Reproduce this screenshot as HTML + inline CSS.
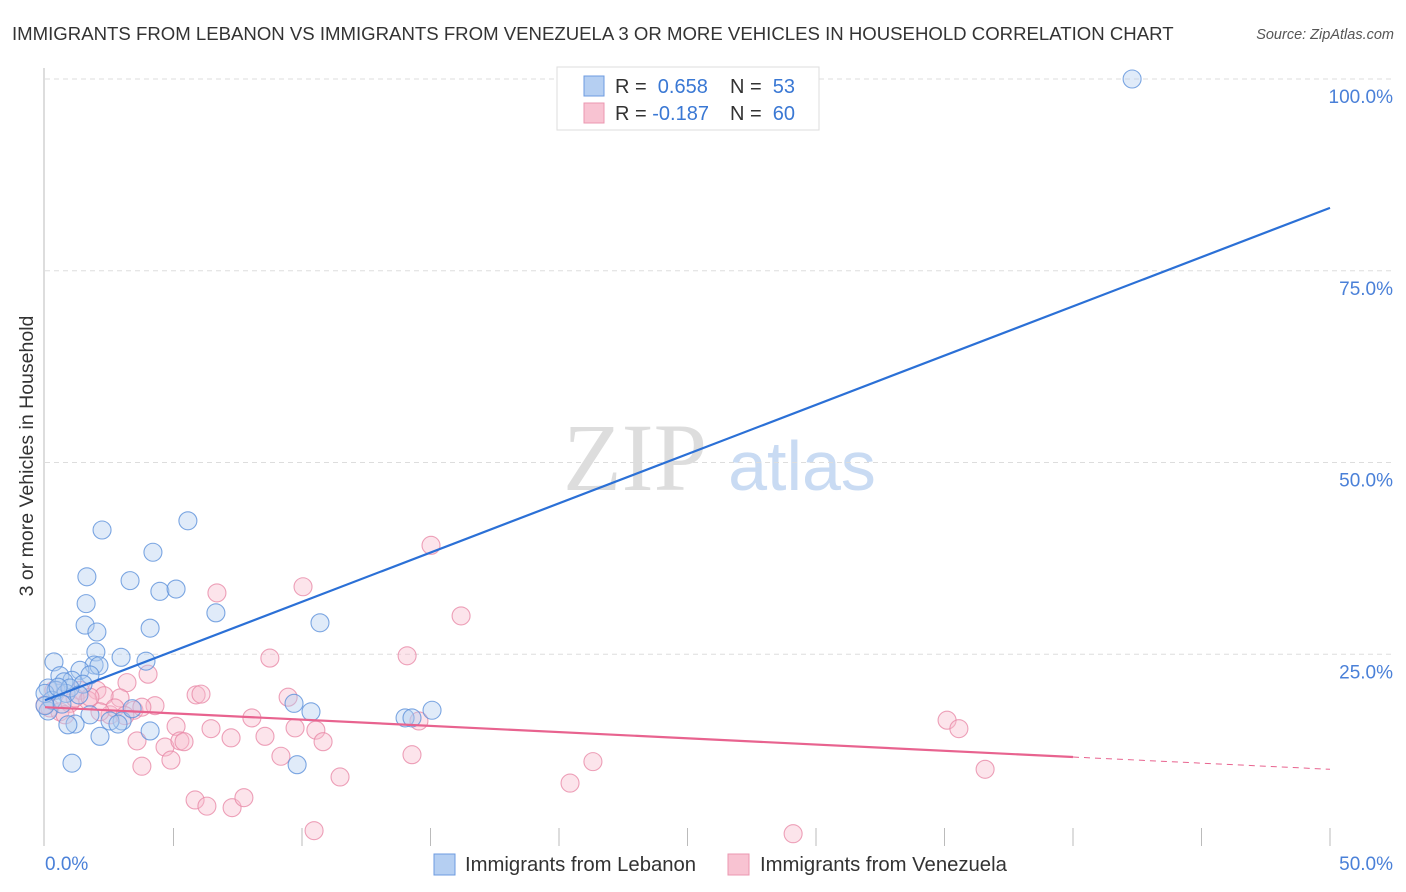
<!DOCTYPE html>
<html><head><meta charset="utf-8"><style>
body{margin:0;background:#fff;font-family:"Liberation Sans",sans-serif}
svg{display:block}
</style></head><body>
<svg id="chart" width="1406" height="892">
<text x="12" y="40" font-size="18.6" fill="#333">IMMIGRANTS FROM LEBANON VS IMMIGRANTS FROM VENEZUELA 3 OR MORE VEHICLES IN HOUSEHOLD CORRELATION CHART</text>
<text x="1394" y="39" font-size="14.5" fill="#555" font-style="italic" text-anchor="end">Source: ZipAtlas.com</text>
<text transform="translate(33,456) rotate(-90)" font-size="19.5" fill="#333" text-anchor="middle">3 or more Vehicles in Household</text>
<g><text x="635" y="490" font-size="96" font-family="Liberation Serif,serif" fill="#ddd" text-anchor="middle">ZIP</text><text x="802" y="490" font-size="70" fill="#c9dbf3" text-anchor="middle">atlas</text></g>
<g id="grid"></g><g id="axes"></g><g id="pts"></g><g id="lines"></g>
<g>
<rect x="557" y="67" width="262" height="63" fill="#fff" stroke="#ddd"/>
<rect x="584" y="76" width="20" height="20" fill="#b5cff2" stroke="#6d9be0"/>
<rect x="584" y="103" width="20" height="20" fill="#f8c3d2" stroke="#eb97b0"/>
<text x="615" y="93" font-size="20" fill="#333">R = <tspan fill="#3a78d4">&#160;0.658</tspan><tspan x="730">N = </tspan><tspan fill="#3a78d4">&#160;53</tspan></text>
<text x="615" y="120" font-size="20" fill="#333">R = <tspan fill="#3a78d4">-0.187</tspan><tspan x="730">N = </tspan><tspan fill="#3a78d4">&#160;60</tspan></text>
</g>
<g>
<rect x="434" y="854" width="21" height="21" fill="#b5cff2" stroke="#6d9be0"/>
<text x="465" y="871" font-size="20.3" fill="#333">Immigrants from Lebanon</text>
<rect x="728" y="854" width="21" height="21" fill="#f8c3d2" stroke="#eb97b0"/>
<text x="760" y="871" font-size="20.3" fill="#333">Immigrants from Venezuela</text>
</g>
</svg>
<script>
const blueX=[42.3,5.56,2.22,4.2,1.63,3.31,4.47,5.1,1.6,6.65,1.56,2.02,4.09,10.7,1.98,2.96,3.93,0.35,1.91,2.1,1.36,0.58,1.75,1.05,0.74,0.12,0.43,0.82,1.48,0.97,9.69,10.35,15.06,14.01,14.28,3.0,1.75,2.53,1.17,0.89,4.09,2.14,1.05,9.81,0.12,0.27,0.66,0.0,0.51,1.32,3.39,2.84,0.0];
const blueY=[100,42.4,41.2,38.3,35.1,34.6,33.2,33.5,31.6,30.4,28.8,27.9,28.4,29.1,25.3,24.6,24.1,24.0,23.6,23.5,22.9,22.2,22.3,21.6,21.4,20.6,20.3,19.9,21.1,20.6,18.6,17.5,17.7,16.7,16.7,16.3,17.1,16.3,15.9,15.8,15.0,14.3,10.8,10.6,17.6,19.0,18.5,19.9,20.7,19.7,17.9,15.9,18.3];
const pinkX=[15.02,10.04,6.69,16.19,8.75,14.09,4.01,3.19,5.88,6.07,9.46,2.02,2.92,2.3,3.46,4.28,3.77,5.1,6.46,8.05,7.24,8.56,9.73,10.54,10.82,14.55,35.1,35.56,4.67,5.25,5.41,3.58,4.9,3.77,9.18,14.28,11.48,21.32,20.43,36.58,5.84,6.3,7.28,7.74,10.47,29.11,0.19,0.58,0.97,1.36,1.67,0.35,2.53,0.78,1.17,1.75,2.72,2.14,0.0,3.11];
const pinkY=[39.2,33.8,33.0,30.0,24.5,24.8,22.4,21.3,19.7,19.8,19.4,20.3,19.3,19.6,17.7,18.3,18.1,15.6,15.3,16.7,14.1,14.3,15.4,15.1,13.6,16.3,16.4,15.3,12.9,13.7,13.6,13.7,11.2,10.4,11.7,11.9,9.0,11.0,8.2,10.0,6.0,5.2,5.0,6.3,2.0,1.6,18.0,17.5,18.6,20.3,19.0,20.3,17.1,17.1,19.3,19.4,18.0,17.5,18.4,17.0];
const blueTrend=[[0,19.0],[50,83.2]];
const pinkTrend=[[0,18.1],[40,11.6]];
const pinkDash=[[40,11.6],[50,10.0]];
const yTicks=[25,50,75,100];
const xTickVals=[0,5,10,15,20,25,30,35,40,45,50];
const NS="http://www.w3.org/2000/svg";
const sx=v=>45+v/50*1285, sy=v=>846-v/100*767;
function mk(t,a,p){const e=document.createElementNS(NS,t);for(const k in a)e.setAttribute(k,a[k]);document.getElementById(p).appendChild(e);return e;}
yTicks.forEach(t=>{
 const g=mk('line',{x1:45,x2:1393,y1:sy(t),y2:sy(t),stroke:'#ddd','stroke-dasharray':'5,4'},'grid');
 
 
 const l=mk('text',{x:1393,y:sy(t)+24,'font-size':19,fill:'#4a80d8','text-anchor':'end'},'grid');
 l.textContent=t.toFixed(1)+'%';
 
 
});
const ax=mk('line',{x1:44,x2:44,y1:68,y2:846,stroke:'#bbb'},'axes');


xTickVals.forEach(t=>{if(t===0)return;
 const tk=mk('line',{x1:sx(t),x2:sx(t),y1:828,y2:846,stroke:'#bbb'},'axes');
 
 
});
const x0=mk('text',{x:45,y:870,'font-size':19,fill:'#4a80d8'},'axes');x0.textContent='0.0%';


const x1=mk('text',{x:1393,y:870,'font-size':19,fill:'#4a80d8','text-anchor':'end'},'axes');x1.textContent='50.0%';


function pts(X,Y,fill,stroke,name){X.forEach((x,i)=>{
 const c=mk('circle',{cx:sx(x),cy:sy(Y[i]),r:9,fill:fill,'fill-opacity':0.4,stroke:stroke,'stroke-opacity':0.8,'stroke-width':1.1},'pts');
 
 
});}
pts(pinkX,pinkY,'#f7bccd','#e88aa7','venezuela-point');
pts(blueX,blueY,'#b2cdf1','#5d91db','lebanon-point');
function ln(p,col,dash,name){const l=mk('line',{x1:sx(p[0][0]),y1:sy(p[0][1]),x2:sx(p[1][0]),y2:sy(p[1][1]),stroke:col,'stroke-width':dash?1:2.2},'lines');
 if(dash)l.setAttribute('stroke-dasharray','6,5');
 
 }
ln(blueTrend,'#2b70d6',false,'lebanon-trendline');
ln(pinkTrend,'#e8638f',false,'venezuela-trendline');
ln(pinkDash,'#e8638f',true,'venezuela-trendline-extension');
</script>
</body></html>
